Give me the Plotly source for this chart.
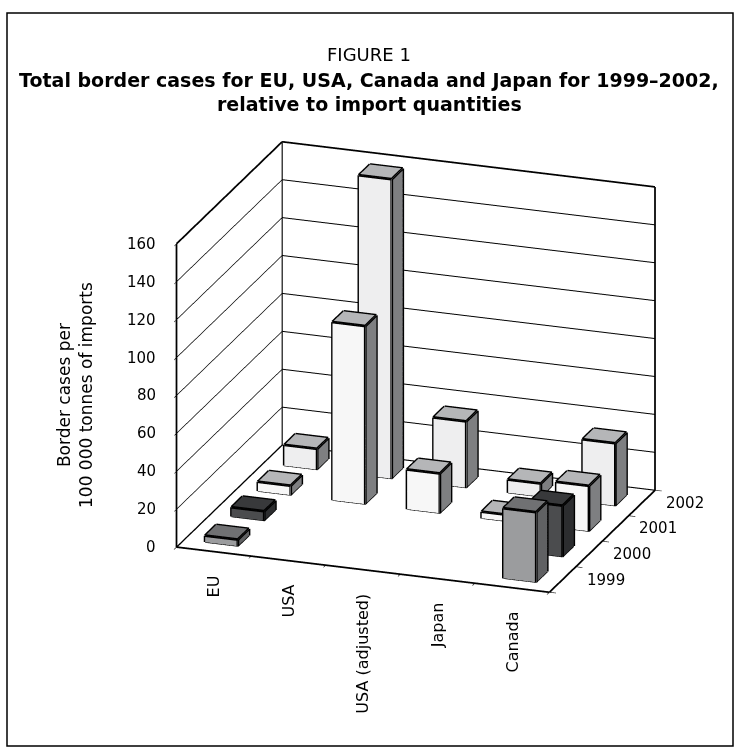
import numpy as np
import plotly.graph_objects as go

# ---------------- data ----------------
categories = ["EU", "USA", "USA (adjusted)", "Japan", "Canada"]
years = ["1999", "2000", "2001", "2002"]
values_1999 = [3.5, None, None, None, 37]
values_2000 = [5, None, None, None, 27]
values_2001 = [5, 94, 21, 3.5, 24]
values_2002 = [11, 158, 35, 7, 33]
z_ticks = [0, 20, 40, 60, 80, 100, 120, 140, 160]

series_values = [values_1999, values_2000, values_2001, values_2002]
# (front, top, side) colours per year
series_colors = [
    ("#9b9c9e", "#707173", "#606163"),
    ("#4b4c4e", "#38393b", "#2c2d2f"),
    ("#f7f7f7", "#b5b6b8", "#7e7f81"),
    ("#eeeeef", "#b5b6b8", "#7e7f81"),
]

FONT = "DejaVu Sans"
BW = 0.44   # bar width (fraction of category)
BD = 0.42   # bar depth (fraction of series slot)
ZMAX = z_ticks[-1]
NX, NY = len(categories), len(years)

fig = go.Figure()

edge_x, edge_y, edge_z = [], [], []
for j, (vals, (cf, ct, cs)) in enumerate(zip(series_values, series_colors)):
    X, Y, Z, I, J, K, FC = [], [], [], [], [], [], []
    for i, v in enumerate(vals):
        if v is None:
            continue
        x0, x1 = i + 0.5 - BW / 2, i + 0.5 + BW / 2
        y0, y1 = j + 0.5 - BD / 2, j + 0.5 + BD / 2
        base = len(X)
        corners = [(x0, y0, 0), (x1, y0, 0), (x1, y1, 0), (x0, y1, 0),
                   (x0, y0, v), (x1, y0, v), (x1, y1, v), (x0, y1, v)]
        for c in corners:
            X.append(c[0]); Y.append(c[1]); Z.append(c[2])
        tris = [((0, 1, 5), cf), ((0, 5, 4), cf),
                ((1, 2, 6), cs), ((1, 6, 5), cs),
                ((4, 5, 6), ct), ((4, 6, 7), ct),
                ((3, 2, 6), cs), ((3, 6, 7), cs),
                ((0, 3, 7), cs), ((0, 7, 4), cs),
                ((0, 1, 2), cs), ((0, 2, 3), cs)]
        for (a, b, c), col in tris:
            I.append(base + a); J.append(base + b); K.append(base + c); FC.append(col)
        edges = [(0, 1), (1, 2), (2, 3), (3, 0), (4, 5), (5, 6), (6, 7), (7, 4),
                 (0, 4), (1, 5), (2, 6), (3, 7)]
        for a, b in edges:
            edge_x += [corners[a][0], corners[b][0], None]
            edge_y += [corners[a][1], corners[b][1], None]
            edge_z += [corners[a][2], corners[b][2], None]
    fig.add_trace(go.Mesh3d(
        x=X, y=Y, z=Z, i=I, j=J, k=K, facecolor=FC, flatshading=True,
        lighting=dict(ambient=1, diffuse=0, specular=0, roughness=1, fresnel=0),
        hoverinfo="skip", showscale=False, name=years[j]))

fig.add_trace(go.Scatter3d(x=edge_x, y=edge_y, z=edge_z, mode="lines",
                           line=dict(color="black", width=5.5), hoverinfo="skip",
                           showlegend=False))

# wall / floor outlines from the axis ranges
wx, wy, wz = [], [], []
segs = [((0, 0, 0), (NX, 0, 0)), ((0, 0, 0), (0, NY, 0)), ((NX, 0, 0), (NX, NY, 0)),
        ((0, NY, 0), (NX, NY, 0)), ((0, 0, 0), (0, 0, ZMAX)), ((0, NY, 0), (0, NY, ZMAX)),
        ((NX, NY, 0), (NX, NY, ZMAX)), ((0, 0, ZMAX), (0, NY, ZMAX)),
        ((0, NY, ZMAX), (NX, NY, ZMAX))]
for a, b in segs:
    wx += [a[0], b[0], None]; wy += [a[1], b[1], None]; wz += [a[2], b[2], None]
fig.add_trace(go.Scatter3d(x=wx, y=wy, z=wz, mode="lines",
                           line=dict(color="black", width=3.5), hoverinfo="skip",
                           showlegend=False))

# ---------------- camera ----------------
beta = np.radians(19.5)
theta = np.radians(20.0)
r = 3.0
d = np.array([np.sin(beta) * np.cos(theta), -np.cos(beta) * np.cos(theta), np.sin(theta)])
right = np.array([np.cos(beta), np.sin(beta), 0.0])
up = np.array([-np.sin(theta) * np.sin(beta), np.sin(theta) * np.cos(beta), np.cos(theta)])
center = -(0.125 * right + 0.02 * up)
eye = center + r * d
k_scale = 0.845

axis_common = dict(showgrid=False, zeroline=False, showline=False, title=dict(text=""),
                   showbackground=True, backgroundcolor="white", showspikes=False,
                   ticks="outside", tickcolor="black", ticklen=7, tickwidth=1.5,
                   showticklabels=False)

lab_font = dict(family=FONT, size=16, color="black")
tick_font = dict(family=FONT, size=15, color="black")
scene_ann = []
for i, c in enumerate(categories):
    scene_ann.append(dict(x=i + 0.5, y=0, z=0, text=c, textangle=-90, showarrow=False,
                          xanchor="center", yanchor="top", yshift=-22, font=lab_font))
for t in z_ticks:
    scene_ann.append(dict(x=0, y=0, z=t, text=str(t), showarrow=False,
                          xanchor="right", yanchor="middle", xshift=-19, font=tick_font))
for k, yr in enumerate(years):
    scene_ann.append(dict(x=NX, y=k + 0.5, z=0, text=yr, showarrow=False,
                          xanchor="left", yanchor="middle", xshift=22, font=tick_font))

fig.update_layout(
    width=738, height=749, margin=dict(l=0, r=0, t=0, b=0),
    paper_bgcolor="white", showlegend=False,
    scene=dict(
        domain=dict(x=[0, 1], y=[0, 1]),
        xaxis=dict(axis_common, range=[0, NX], tickvals=list(range(NX + 1))),
        yaxis=dict(axis_common, range=[0, NY], tickvals=list(range(NY + 1))),
        zaxis=dict(axis_common, range=[0, ZMAX], tickvals=z_ticks, showgrid=True,
                   gridcolor="black", gridwidth=2),
        aspectmode="manual",
        aspectratio=dict(x=1.25 * k_scale, y=1.0 * k_scale, z=1.02 * k_scale),
        camera=dict(eye=dict(x=eye[0], y=eye[1], z=eye[2]),
                    center=dict(x=center[0], y=center[1], z=center[2]),
                    up=dict(x=0, y=0, z=1),
                    projection=dict(type="orthographic")),
        annotations=scene_ann,
        dragmode=False,
    ),
    annotations=[
        dict(x=0.5, y=1 - 55 / 749, xref="paper", yref="paper", text="FIGURE 1",
             showarrow=False, xanchor="center", yanchor="middle",
             font=dict(family=FONT, size=18, color="black")),
        dict(x=0.5, y=1 - 80 / 749, xref="paper", yref="paper",
             text="<b>Total border cases for EU, USA, Canada and Japan for 1999–2002,</b>",
             showarrow=False, xanchor="center", yanchor="middle",
             font=dict(family=FONT, size=19, color="black")),
        dict(x=0.5, y=1 - 104 / 749, xref="paper", yref="paper",
             text="<b>relative to import quantities</b>",
             showarrow=False, xanchor="center", yanchor="middle",
             font=dict(family=FONT, size=19, color="black")),
        dict(x=75 / 738, y=1 - 395 / 749, xref="paper", yref="paper",
             text="Border cases per<br>100 000 tonnes of imports", textangle=-90,
             showarrow=False, xanchor="center", yanchor="middle",
             font=dict(family=FONT, size=17, color="black")),
    ],
    shapes=[dict(type="rect", xref="paper", yref="paper", x0=7 / 738, x1=733 / 738,
                 y0=1 - 746 / 749, y1=1 - 13 / 749, line=dict(color="black", width=1.5))],
)

fig.write_html("out.html")
